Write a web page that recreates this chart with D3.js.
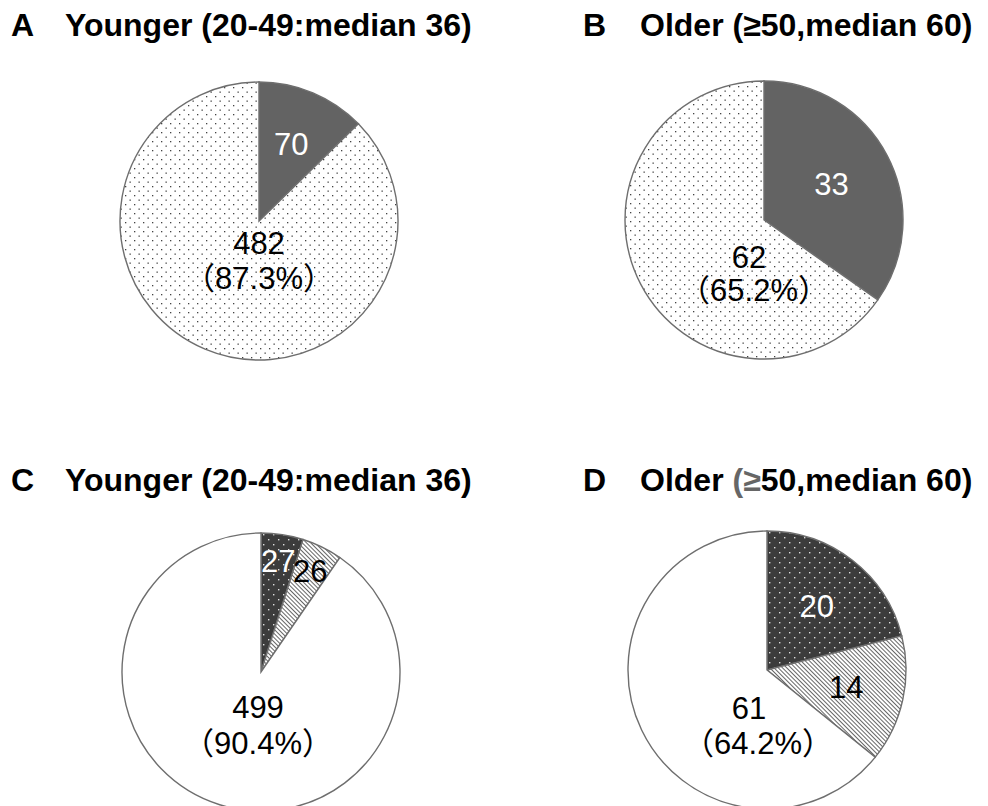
<!DOCTYPE html>
<html>
  <head>
    <script src="https://cdn.jsdelivr.net/npm/d3@7/dist/d3.min.js" charset="utf-8"></script>
    <style type="text/css">
      body {
        margin: 0;
        background: #fff;
        font-family: "Liberation Sans", Arial, "Noto Sans CJK JP", sans-serif;
      }
      .title { font-size: 32px; font-weight: bold; fill: #000; }
      .lab { font-size: 31px; }
    </style>
  </head>
  <body>
    <script type="text/javascript">
      // panel data
      var panelLetters = ["A", "B", "C", "D"];
      var panelTitles = ["Younger (20-49:median 36)", "Older (\u226550,median 60)",
                         "Younger (20-49:median 36)", "Older (\u226550,median 60)"];
      var valuesA = [70, 482];
      var valuesB = [33, 62];
      var valuesC = [27, 26, 499];
      var valuesD = [20, 14, 61];
      var pctLabels = ["87.3%", "65.2%", "90.4%", "64.2%"];

      var w = 988, h = 806, radius = 139;

      var svg = d3.select("body").append("svg")
          .attr("width", w)
          .attr("height", h);

      // fill patterns
      var defs = svg.append("defs");

      var dotsLight = defs.append("pattern")
          .attr("id", "dotsLight").attr("patternUnits", "userSpaceOnUse")
          .attr("width", 9).attr("height", 9);
      dotsLight.append("rect").attr("width", 9).attr("height", 9).attr("fill", "#fff");
      dotsLight.append("rect").attr("x", 1).attr("y", 1).attr("width", 1.3).attr("height", 1.3).attr("fill", "#444");
      dotsLight.append("rect").attr("x", 5.5).attr("y", 5.5).attr("width", 1.3).attr("height", 1.3).attr("fill", "#444");

      var dotsDark = defs.append("pattern")
          .attr("id", "dotsDark").attr("patternUnits", "userSpaceOnUse")
          .attr("width", 10).attr("height", 10);
      dotsDark.append("rect").attr("width", 10).attr("height", 10).attr("fill", "#3c3c3c");
      dotsDark.append("rect").attr("x", 2).attr("y", 2).attr("width", 1.4).attr("height", 1.4).attr("fill", "#ddd");
      dotsDark.append("rect").attr("x", 7).attr("y", 7).attr("width", 1.4).attr("height", 1.4).attr("fill", "#ddd");

      var hatch = defs.append("pattern")
          .attr("id", "hatch").attr("patternUnits", "userSpaceOnUse")
          .attr("width", 3).attr("height", 3)
          .attr("patternTransform", "rotate(-45)");
      hatch.append("rect").attr("width", 3).attr("height", 3).attr("fill", "#fff");
      hatch.append("line").attr("x1", 0).attr("y1", 0).attr("x2", 0).attr("y2", 3)
          .attr("stroke", "#333").attr("stroke-width", 1.5);

      // layout of the four panels
      var panels = [
        { values: valuesA, fills: ["#636363", "url(#dotsLight)"], labColors: ["#fff", "#000"],
          cx: 259, cy: 221, ty: 36, tx: 11, tt: 65, labR: 83, big: [0, 22, 0, 57] },
        { values: valuesB, fills: ["#636363", "url(#dotsLight)"], labColors: ["#fff", "#000"],
          cx: 764, cy: 220, ty: 36, tx: 583, tt: 640, labR: 76, big: [-15, 37, -10, 70] },
        { values: valuesC, fills: ["url(#dotsDark)", "url(#hatch)", "#fff"], labColors: ["#fff", "#000", "#000"],
          cx: 261, cy: 672, ty: 491, tx: 11, tt: 65, labR: 112, big: [-3, 35, -3, 71] },
        { values: valuesD, fills: ["url(#dotsDark)", "url(#hatch)", "#fff"], labColors: ["#fff", "#000", "#000"],
          cx: 767, cy: 670, ty: 491, tx: 583, tt: 640, labR: 81, big: [-18, 38, -9, 73] }
      ];

      var pie = d3.pie().sort(null).value(function(d) { return d; });
      var arc = d3.arc().innerRadius(0).outerRadius(radius);

      panels.forEach(function(p, i) {
        // title
        svg.append("text").attr("class", "title")
           .attr("x", p.tx).attr("y", p.ty)
           .text(panelLetters[i]);
        var t = svg.append("text").attr("class", "title")
           .attr("x", p.tt).attr("y", p.ty);
        if (i == 3) {
          // the "(≥" is printed in grey in the original
          t.append("tspan").text("Older ");
          t.append("tspan").attr("fill", "#666").text("(\u2265");
          t.append("tspan").text("50,median 60)");
        } else {
          t.text(panelTitles[i]);
        }

        var g = svg.append("g").attr("transform", "translate(" + [p.cx, p.cy] + ")");
        var arcs = pie(p.values);

        g.selectAll("path")
          .data(arcs)
          .enter()
          .append("path")
          .attr("d", arc)
          .attr("fill", function(d, j) { return p.fills[j]; })
          .attr("stroke", "#6e6e6e")
          .attr("stroke-width", 1.4);

        var labArc = d3.arc().innerRadius(p.labR).outerRadius(p.labR);
        var n = arcs.length;

        // small slice labels
        g.selectAll("text.small")
          .data(arcs.slice(0, n - 1))
          .enter()
          .append("text")
          .attr("class", "lab small")
          .attr("text-anchor", "middle")
          .attr("dominant-baseline", "central")
          .attr("transform", function(d) { return "translate(" + labArc.centroid(d) + ")"; })
          .attr("fill", function(d, j) { return p.labColors[j]; })
          .text(function(d) { return d.data; });

        // large slice: count and percent
        g.append("text").attr("class", "lab")
          .attr("text-anchor", "middle").attr("dominant-baseline", "central")
          .attr("x", p.big[0]).attr("y", p.big[1])
          .text(arcs[n - 1].data);
        g.append("text").attr("class", "lab")
          .attr("text-anchor", "middle").attr("dominant-baseline", "central")
          .attr("x", p.big[2]).attr("y", p.big[3])
          .text("\uff08" + pctLabels[i] + "\uff09");
      });
    </script>
  </body>
</html>
